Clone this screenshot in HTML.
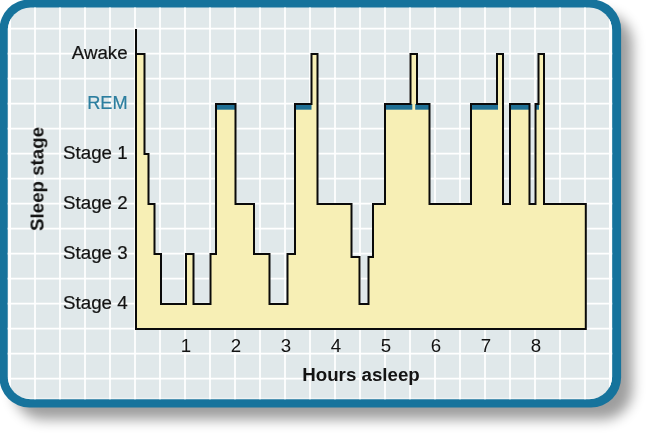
<!DOCTYPE html>
<html lang="en">
<head>
<meta charset="utf-8">
<title>Sleep stages</title>
<style>
html,body{margin:0;padding:0;background:#fff;}
body{width:650px;height:436px;overflow:hidden;}
svg{display:block;}
text{font-family:"Liberation Sans",Arial,Helvetica,sans-serif;}
</style>
</head>
<body>
<svg width="650" height="436" viewBox="0 0 650 436">
<defs>
<filter id="sh" x="-10%" y="-10%" width="130%" height="130%"><feGaussianBlur stdDeviation="6.2"/></filter>
<clipPath id="inner"><rect x="7.7" y="7.5" width="604.5" height="391.8" rx="23" ry="23"/></clipPath>
</defs>
<rect x="13.5" y="13.5" width="619" height="406" rx="30" ry="30" fill="#000" opacity="0.38" filter="url(#sh)"/>
<rect x="-0.5" y="-0.5" width="621.6" height="408" rx="30" ry="30" fill="#16739c"/>
<rect x="7.7" y="7.5" width="604.5" height="391.8" rx="23" ry="23" fill="#e0e8ea"/>
<g clip-path="url(#inner)" stroke="#fff" stroke-width="1.7">
<line x1="35" y1="0" x2="35" y2="410"/>
<line x1="60" y1="0" x2="60" y2="410"/>
<line x1="85" y1="0" x2="85" y2="410"/>
<line x1="110" y1="0" x2="110" y2="410"/>
<line x1="135" y1="0" x2="135" y2="410"/>
<line x1="160" y1="0" x2="160" y2="410"/>
<line x1="185" y1="0" x2="185" y2="410"/>
<line x1="210" y1="0" x2="210" y2="410"/>
<line x1="235" y1="0" x2="235" y2="410"/>
<line x1="260" y1="0" x2="260" y2="410"/>
<line x1="285" y1="0" x2="285" y2="410"/>
<line x1="310" y1="0" x2="310" y2="410"/>
<line x1="335" y1="0" x2="335" y2="410"/>
<line x1="360" y1="0" x2="360" y2="410"/>
<line x1="385" y1="0" x2="385" y2="410"/>
<line x1="410" y1="0" x2="410" y2="410"/>
<line x1="435" y1="0" x2="435" y2="410"/>
<line x1="460" y1="0" x2="460" y2="410"/>
<line x1="485" y1="0" x2="485" y2="410"/>
<line x1="510" y1="0" x2="510" y2="410"/>
<line x1="535" y1="0" x2="535" y2="410"/>
<line x1="560" y1="0" x2="560" y2="410"/>
<line x1="585" y1="0" x2="585" y2="410"/>
<line x1="610" y1="0" x2="610" y2="410"/>
<line x1="0" y1="28.7" x2="625" y2="28.7"/>
<line x1="0" y1="53.7" x2="625" y2="53.7"/>
<line x1="0" y1="78.7" x2="625" y2="78.7"/>
<line x1="0" y1="103.7" x2="625" y2="103.7"/>
<line x1="0" y1="128.7" x2="625" y2="128.7"/>
<line x1="0" y1="153.7" x2="625" y2="153.7"/>
<line x1="0" y1="178.7" x2="625" y2="178.7"/>
<line x1="0" y1="203.7" x2="625" y2="203.7"/>
<line x1="0" y1="228.7" x2="625" y2="228.7"/>
<line x1="0" y1="253.7" x2="625" y2="253.7"/>
<line x1="0" y1="278.7" x2="625" y2="278.7"/>
<line x1="0" y1="303.7" x2="625" y2="303.7"/>
<line x1="0" y1="328.7" x2="625" y2="328.7"/>
<line x1="0" y1="353.7" x2="625" y2="353.7"/>
<line x1="0" y1="378.7" x2="625" y2="378.7"/>
<line x1="9.6" y1="0" x2="9.6" y2="410" stroke-width="2.8"/>
<line x1="610.5" y1="0" x2="610.5" y2="410" stroke-width="2.8"/>
<line x1="0" y1="398.6" x2="625" y2="398.6" stroke-width="1.6" opacity="0.45"/>
</g>
<path d="M136,54 H144.5 V154 H148.5 V204 H154.5 V254 H161 V304 H186 V254 H193.5 V304 H210.5 V254 H216 V104 H235.5 V204 H254 V254 H269.5 V304 H287.5 V254 H295 V104 H311.5 V54 H317.5 V204 H351.5 V257 H359.5 V304 H368.5 V257 H373 V204 H385 V104 H410.5 V54 H417 V104 H429.5 V204 H471 V104 H497 V54 H503 V204 H510 V104 H529.5 V204 H535.5 V104 H538.5 V54 H544 V204 H585.8 V329 H136 Z" fill="#f7efb5"/>
<g fill="#1f6f94">
<rect x="216" y="104" width="19.5" height="5.7"/>
<rect x="295" y="104" width="16.5" height="5.7"/>
<rect x="385" y="104" width="27.30000000000001" height="5.7"/>
<rect x="415.2" y="104" width="14.300000000000011" height="5.7"/>
<rect x="471" y="104" width="27" height="5.7"/>
<rect x="510" y="104" width="19.5" height="5.7"/>
<rect x="535.5" y="104" width="3.5" height="5.7"/>
</g>
<path d="M136,54 H144.5 V154 H148.5 V204 H154.5 V254 H161 V304 H186 V254 H193.5 V304 H210.5 V254 H216 V104 H235.5 V204 H254 V254 H269.5 V304 H287.5 V254 H295 V104 H311.5 V54 H317.5 V204 H351.5 V257 H359.5 V304 H368.5 V257 H373 V204 H385 V104 H410.5 V54 H417 V104 H429.5 V204 H471 V104 H497 V54 H503 V204 H510 V104 H529.5 V204 H535.5 V104 H538.5 V54 H544 V204 H585.8 V329 H136 Z" fill="none" stroke="#0a0a0a" stroke-width="2" stroke-linejoin="miter"/>
<line x1="136" y1="29" x2="136" y2="330" stroke="#0a0a0a" stroke-width="2"/>
<g font-size="18" fill="#111" opacity="0.99">
<text transform="translate(127.6,58.5) scale(1.04,1)" text-anchor="end" fill="#111" stroke="#111" stroke-width="0.2">Awake</text>
<text transform="translate(127.6,109) scale(1.01,1)" text-anchor="end" fill="#2a7d9e" stroke="#2a7d9e" stroke-width="0.2">REM</text>
<text transform="translate(127.6,159) scale(1.04,1)" text-anchor="end" fill="#111" stroke="#111" stroke-width="0.2">Stage 1</text>
<text transform="translate(127.6,209) scale(1.04,1)" text-anchor="end" fill="#111" stroke="#111" stroke-width="0.2">Stage 2</text>
<text transform="translate(127.6,259) scale(1.04,1)" text-anchor="end" fill="#111" stroke="#111" stroke-width="0.2">Stage 3</text>
<text transform="translate(127.6,309) scale(1.04,1)" text-anchor="end" fill="#111" stroke="#111" stroke-width="0.2">Stage 4</text>
<text transform="translate(186,352) scale(1.04,1)" text-anchor="middle">1</text>
<text transform="translate(236,352) scale(1.04,1)" text-anchor="middle">2</text>
<text transform="translate(286,352) scale(1.04,1)" text-anchor="middle">3</text>
<text transform="translate(336,352) scale(1.04,1)" text-anchor="middle">4</text>
<text transform="translate(386,352) scale(1.04,1)" text-anchor="middle">5</text>
<text transform="translate(436,352) scale(1.04,1)" text-anchor="middle">6</text>
<text transform="translate(486,352) scale(1.04,1)" text-anchor="middle">7</text>
<text transform="translate(536,352) scale(1.04,1)" text-anchor="middle">8</text>
</g>
<g font-size="18" font-weight="bold" fill="#111" opacity="0.99">
<text transform="translate(361,381) scale(1.04,1)" text-anchor="middle">Hours asleep</text>
<text transform="translate(43.5,179) rotate(-90) scale(1.04,1)" text-anchor="middle">Sleep stage</text>
</g>
</svg>
</body>
</html>
